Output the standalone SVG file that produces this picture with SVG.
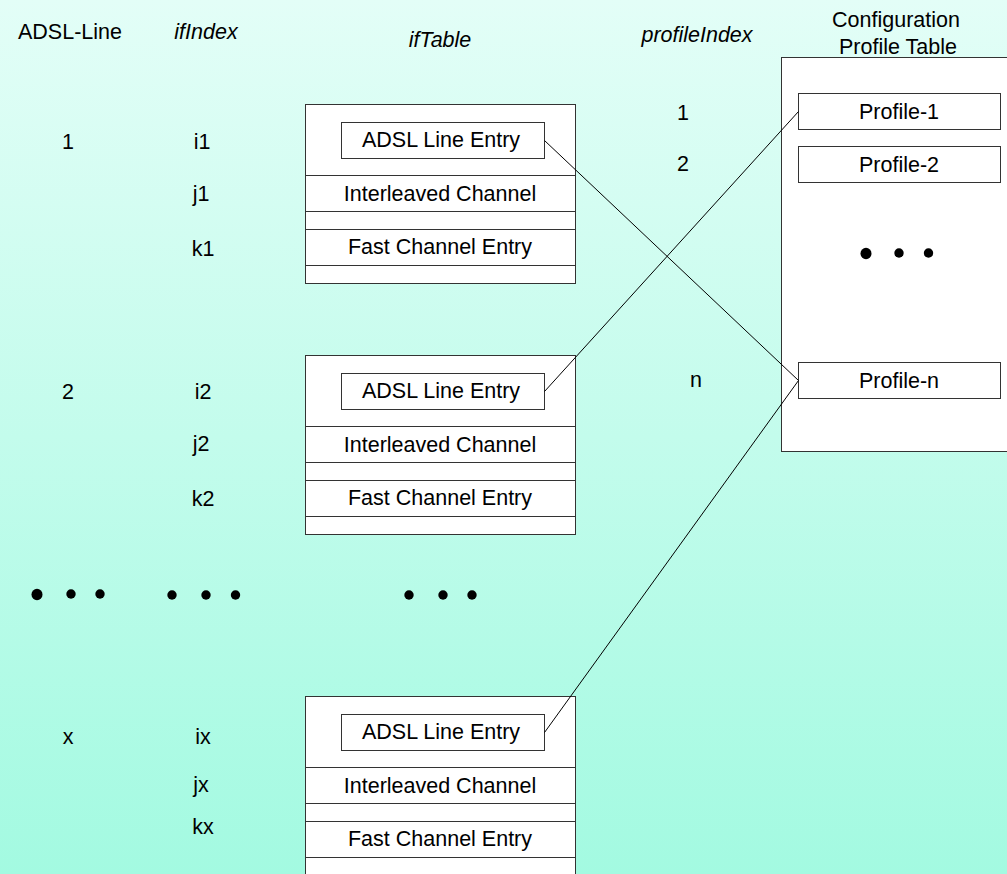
<svg xmlns="http://www.w3.org/2000/svg" width="1007" height="874" viewBox="0 0 1007 874">
  <defs>
    <linearGradient id="bg" x1="0" y1="0" x2="0" y2="1">
      <stop offset="0" stop-color="#e3fef7"/>
      <stop offset="1" stop-color="#a3fae1"/>
    </linearGradient>
    <style>
      text { font-family: "Liberation Sans", Arial, sans-serif; font-size: 21.5px; fill: #000; }
      .c { text-anchor: middle; }
      .it { font-style: italic; }
      .box { fill: #fff; stroke: #333; stroke-width: 1; }
      .row { stroke: #333; stroke-width: 1; fill: none; }
      .wire { stroke: #000; stroke-width: 1; fill: none; }
      .dot { fill: #000; }
    </style>
  </defs>

  <rect x="0" y="0" width="1007" height="874" fill="url(#bg)"/>

  <!-- column headings -->
  <g id="headings">
    <text class="c" x="70" y="39">ADSL-Line</text>
    <text class="c it" x="206" y="39">ifIndex</text>
    <text class="c it" x="440" y="47">ifTable</text>
    <text class="c it" x="697" y="42">profileIndex</text>
    <text class="c" x="896" y="27">Configuration</text>
    <text class="c" x="898" y="54">Profile Table</text>
  </g>

  <!-- line numbers and interface indices -->
  <g id="line-1">
    <text class="c" x="68" y="149">1</text>
    <text class="c" x="202" y="149">i1</text>
    <text class="c" x="201" y="201">j1</text>
    <text class="c" x="203" y="256">k1</text>
  </g>
  <g id="line-2">
    <text class="c" x="68" y="399">2</text>
    <text class="c" x="203" y="399">i2</text>
    <text class="c" x="201" y="451">j2</text>
    <text class="c" x="203" y="506">k2</text>
  </g>
  <g id="line-x">
    <text class="c" x="68" y="744">x</text>
    <text class="c" x="203" y="744">ix</text>
    <text class="c" x="201" y="792">jx</text>
    <text class="c" x="203" y="834">kx</text>
  </g>

  <!-- ifTable blocks -->
  <g id="iftable-1">
    <rect class="box" x="305.5" y="104.5" width="270" height="179"/>
    <rect class="box" x="341.5" y="122.5" width="203" height="36"/>
    <path class="row" d="M305.5 175.5H575.5M305.5 211.5H575.5M305.5 229.5H575.5M305.5 265.5H575.5"/>
    <text class="c" x="441" y="147">ADSL Line Entry</text>
    <text class="c" x="440" y="201">Interleaved Channel</text>
    <text class="c" x="440" y="254">Fast Channel Entry</text>
  </g>
  <g id="iftable-2">
    <rect class="box" x="305.5" y="355.5" width="270" height="179"/>
    <rect class="box" x="341.5" y="373.5" width="203" height="36"/>
    <path class="row" d="M305.5 426.5H575.5M305.5 462.5H575.5M305.5 480.5H575.5M305.5 516.5H575.5"/>
    <text class="c" x="441" y="398">ADSL Line Entry</text>
    <text class="c" x="440" y="452">Interleaved Channel</text>
    <text class="c" x="440" y="505">Fast Channel Entry</text>
  </g>
  <g id="iftable-x">
    <rect class="box" x="305.5" y="696.5" width="270" height="190"/>
    <rect class="box" x="341.5" y="714.5" width="203" height="36"/>
    <path class="row" d="M305.5 767.5H575.5M305.5 803.5H575.5M305.5 821.5H575.5M305.5 857.5H575.5"/>
    <text class="c" x="441" y="739">ADSL Line Entry</text>
    <text class="c" x="440" y="793">Interleaved Channel</text>
    <text class="c" x="440" y="846">Fast Channel Entry</text>
  </g>

  <!-- continuation marks -->
  <g id="ellipsis">
    <ellipse class="dot" cx="37" cy="594.5" rx="5.5" ry="5.8"/>
    <circle class="dot" cx="71" cy="594" r="4.7"/>
    <circle class="dot" cx="100" cy="594" r="4.7"/>
    <circle class="dot" cx="172" cy="595" r="4.7"/>
    <circle class="dot" cx="206" cy="595" r="4.7"/>
    <circle class="dot" cx="235.5" cy="595" r="4.7"/>
    <circle class="dot" cx="409" cy="595" r="4.7"/>
    <circle class="dot" cx="443" cy="595" r="4.7"/>
    <circle class="dot" cx="472" cy="595" r="4.7"/>
  </g>

  <!-- profile indices -->
  <g id="profile-index">
    <text class="c" x="683" y="120">1</text>
    <text class="c" x="683" y="171">2</text>
    <text class="c" x="696" y="387">n</text>
  </g>

  <!-- configuration profile table -->
  <g id="profile-table">
    <rect class="box" x="781.5" y="57.5" width="240" height="394"/>
    <ellipse class="dot" cx="866" cy="253.5" rx="5.5" ry="5.8"/>
    <circle class="dot" cx="899" cy="253" r="4.7"/>
    <circle class="dot" cx="928.5" cy="253" r="4.7"/>
  </g>
  <g id="profile-1">
    <rect class="box" x="798.5" y="93.5" width="202" height="36"/>
    <text class="c" x="899" y="119">Profile-1</text>
  </g>
  <g id="profile-2">
    <rect class="box" x="798.5" y="146.5" width="202" height="36"/>
    <text class="c" x="899" y="172">Profile-2</text>
  </g>
  <g id="profile-n">
    <rect class="box" x="798.5" y="362.5" width="202" height="36"/>
    <text class="c" x="899" y="388">Profile-n</text>
  </g>

  <!-- links from line entries to their profiles -->
  <g id="connectors">
    <line class="wire" x1="544.5" y1="140.5" x2="798.5" y2="380.5"/>
    <line class="wire" x1="544.5" y1="391.5" x2="798.5" y2="111.5"/>
    <line class="wire" x1="544.5" y1="732.5" x2="798.5" y2="380.5"/>
  </g>
</svg>
